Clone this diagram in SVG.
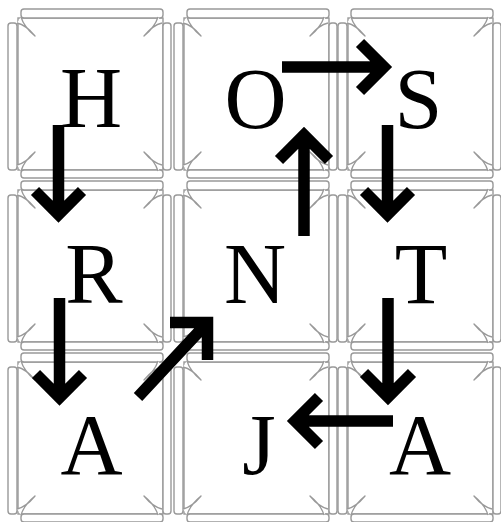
<svg xmlns="http://www.w3.org/2000/svg" xmlns:xlink="http://www.w3.org/1999/xlink" width="501" height="522" viewBox="0 0 501 522">
<style>
.bar{fill:#fff;stroke:#999;stroke-width:1.4}
.sq{fill:#fff;stroke:#999;stroke-width:1.4}
.spk{fill:#fff;stroke:#999;stroke-width:1.3;stroke-linejoin:round}
.lt{font-family:'Times New Roman',Tinos,'Liberation Serif','Nimbus Roman','Nimbus Roman No9 L',FreeSerif,Times,serif;font-size:86px;fill:#000;text-anchor:middle}
.ar{fill:none;stroke:#000;stroke-width:11.5;stroke-linecap:butt;stroke-linejoin:miter}
</style>
<defs>
<g id="cap">
<rect class="sq" x="10" y="9" width="145" height="152"/>
<rect class="bar" x="13" y="0" width="142" height="9" rx="3"/>
<rect class="bar" x="13" y="161" width="142" height="8" rx="3"/>
<rect class="bar" x="0" y="14" width="9" height="147" rx="3"/>
<rect class="bar" x="155" y="14" width="8" height="147" rx="3"/>
<path class="spk" d="M13,8 Q16,18 27,27 Q18,16 9,14"/>
<path class="spk" d="M150,8 Q147,18 136,27 Q145,16 154,14"/>
<path class="spk" d="M13,162 Q16,152 27,143 Q18,154 9,156"/>
<path class="spk" d="M150,162 Q147,152 136,143 Q145,154 154,156"/>
</g>
</defs>
<g id="node-H"><use xlink:href="#cap" x="8" y="9"/><text class="lt" x="91" y="127">H</text></g>
<g id="node-O"><use xlink:href="#cap" x="174" y="9"/><text class="lt" x="255.5" y="128">O</text></g>
<g id="node-S"><use xlink:href="#cap" x="338" y="9"/><text class="lt" x="418.5" y="128">S</text></g>
<g id="node-R"><use xlink:href="#cap" x="8" y="181"/><text class="lt" x="94" y="303">R</text></g>
<g id="node-N"><use xlink:href="#cap" x="174" y="181"/><text class="lt" x="255" y="303">N</text></g>
<g id="node-T"><use xlink:href="#cap" x="338" y="181"/><text class="lt" x="421" y="303">T</text></g>
<g id="node-A1"><use xlink:href="#cap" x="8" y="353"/><text class="lt" x="91.5" y="474">A</text></g>
<g id="node-J"><use xlink:href="#cap" x="174" y="353"/><text class="lt" x="259" y="474">J</text></g>
<g id="node-A2"><use xlink:href="#cap" x="338" y="353"/><text class="lt" x="420" y="474">A</text></g>
<g id="connectors">
<path class="ar" d="M58.5,125 V214 M35,191 L58.5,214.5 L82,191"/>
<path class="ar" d="M59.5,298 V397 M36,374 L59.5,397.5 L83,374"/>
<path class="ar" d="M138,397 L207,323 M170,322.5 H207.5 V360"/>
<path class="ar" d="M304,236 V135 M279,160 L304,135 L329,160"/>
<path class="ar" d="M282,67 H384 M360,43 L384,67 L360,91"/>
<path class="ar" d="M387.5,125 V214 M364,191 L387.5,214.5 L411,191"/>
<path class="ar" d="M388,298 V397 M364,373 L388,397 L412,373"/>
<path class="ar" d="M393,421 H295 M319,397 L295,421 L319,445"/>
</g>
</svg>
